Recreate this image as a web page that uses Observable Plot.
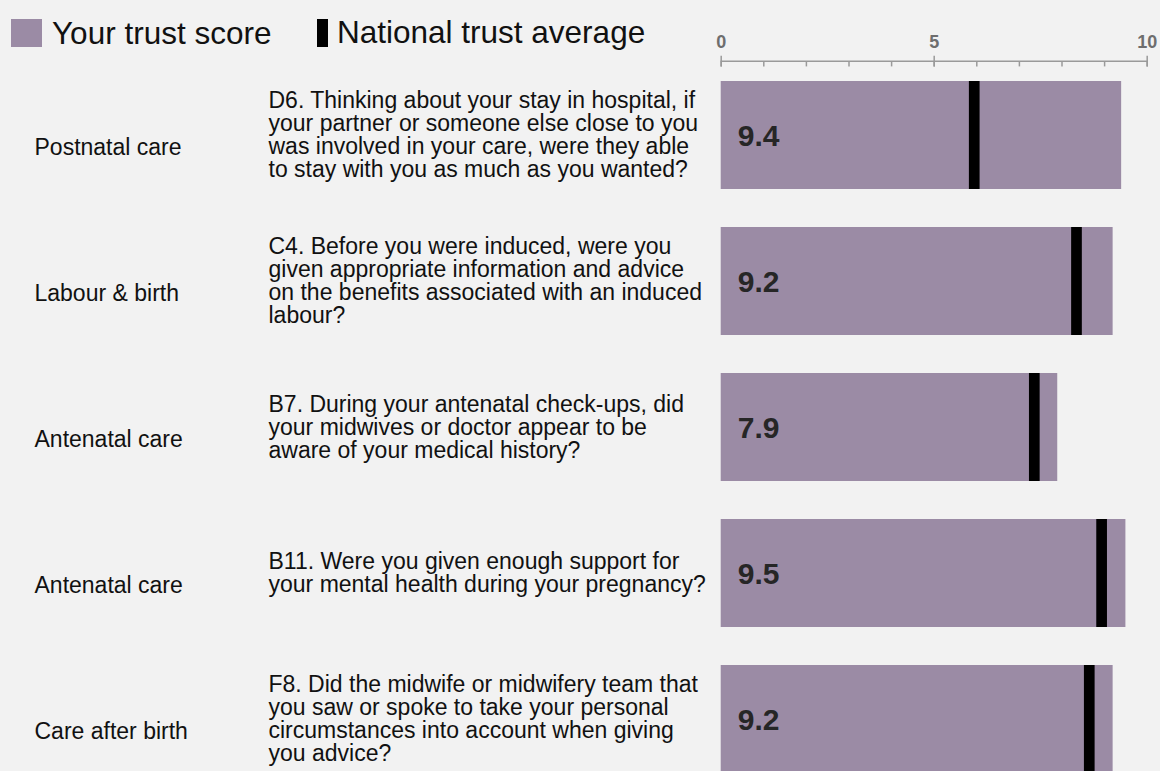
<!DOCTYPE html>
<html>
<head>
<meta charset="utf-8">
<script src="https://cdn.jsdelivr.net/npm/d3@7"></script>
<script src="https://cdn.jsdelivr.net/npm/@observablehq/plot@0.6"></script>
<style>
  html, body { margin: 0; padding: 0; background: #f2f2f2; }
  #wrap { position: relative; width: 1160px; height: 771px; overflow: hidden; background: #f2f2f2;
          font-family: Arial, "Liberation Sans", Helvetica, sans-serif; }
  #chart { position: absolute; left: 0; top: 0; }
  .legend { position: absolute; top: 0; left: 0; width: 1160px; height: 60px; }
  .sw { position: absolute; }
  .lt { position: absolute; font-size: 31.5px; line-height: 32px; color: #111; white-space: nowrap; }
</style>
</head>
<body>
<div id="wrap">
  <div id="chart"></div>
  <div class="legend">
    <div class="sw" style="left:11px;top:19px;width:31px;height:28px;background:#9b8ba5"></div>
    <div class="lt" style="left:52px;top:17px">Your trust score</div>
    <div class="sw" style="left:317px;top:19px;width:11px;height:28px;background:#000"></div>
    <div class="lt" style="left:337px;top:16px">National trust average</div>
  </div>
</div>
<script>
const questions = [
  "D6. Thinking about your stay in hospital, if\nyour partner or someone else close to you\nwas involved in your care, were they able\nto stay with you as much as you wanted?",
  "C4. Before you were induced, were you\ngiven appropriate information and advice\non the benefits associated with an induced\nlabour?",
  "B7. During your antenatal check-ups, did\nyour midwives or doctor appear to be\naware of your medical history?",
  "B11. Were you given enough support for\nyour mental health during your pregnancy?",
  "F8. Did the midwife or midwifery team that\nyou saw or spoke to take your personal\ncircumstances into account when giving\nyou advice?"
];
const categories = ["Postnatal care", "Labour & birth", "Antenatal care", "Antenatal care", "Care after birth"];
const trustScores = [9.4, 9.2, 7.9, 9.5, 9.2];
const nationalAverages = [5.94, 8.34, 7.35, 8.93, 8.64];
const axisLabels = [0, 5, 10];
const minorTicks = [0, 1, 2, 3, 4, 5, 6, 7, 8, 9, 10];

const rows = questions.map((q, i) => ({
  question: q, category: categories[i], score: trustScores[i], avg: nationalAverages[i]
}));

const barColor = "#9b8ba5";
const axisColor = "#9a9a9a";

const chart = Plot.plot({
  width: 1160,
  height: 794,
  marginTop: 60.7,
  marginBottom: 0,
  marginLeft: 720.7,
  marginRight: 13.3,
  style: { background: "transparent", fontFamily: "Arial, 'Liberation Sans', Helvetica, sans-serif", overflow: "visible" },
  x: { domain: [0, 10], axis: null, label: null },
  y: { domain: questions, paddingInner: 0.261, paddingOuter: 0.1317, axis: null, label: null },
  marks: [
    Plot.barX(rows, { x: "score", y: "question", fill: barColor }),
    Plot.tickX(rows, { x: "avg", y: "question", stroke: "#000", strokeWidth: 10.7 }),
    Plot.text(rows, { x: 0, y: "question", text: d => d.score.toFixed(1), textAnchor: "start", dx: 16.5, dy: 1,
                      fontSize: 30, fontWeight: "bold", fill: "#262626" }),
    Plot.text(rows, { y: "question", text: "category", frameAnchor: "left", textAnchor: "start", dx: -686.7, dy: 12,
                      fontSize: 23, fill: "#111" }),
    Plot.text(rows, { y: "question", text: "question", frameAnchor: "left", textAnchor: "start", dx: -452.7,
                      fontSize: 23, lineHeight: 1.0, fill: "#111" }),
    Plot.frame({ anchor: "top", stroke: axisColor, strokeWidth: 1.5 }),
    Plot.axisX(minorTicks, { anchor: "top", tickSize: 4.7, dy: 4.7, stroke: axisColor, strokeWidth: 1.5, fill: "none", label: null }),
    Plot.axisX(axisLabels, { anchor: "top", tickSize: 10.7, dy: 4.7, stroke: axisColor, strokeWidth: 1.5, fill: "none", label: null }),
    Plot.text(axisLabels, { x: d => d, text: d => String(d), frameAnchor: "top", dy: -26, fontSize: 18, fontWeight: "bold", fill: "#6e6e6e" })
  ]
});
document.getElementById("chart").appendChild(chart);
</script>
</body>
</html>
